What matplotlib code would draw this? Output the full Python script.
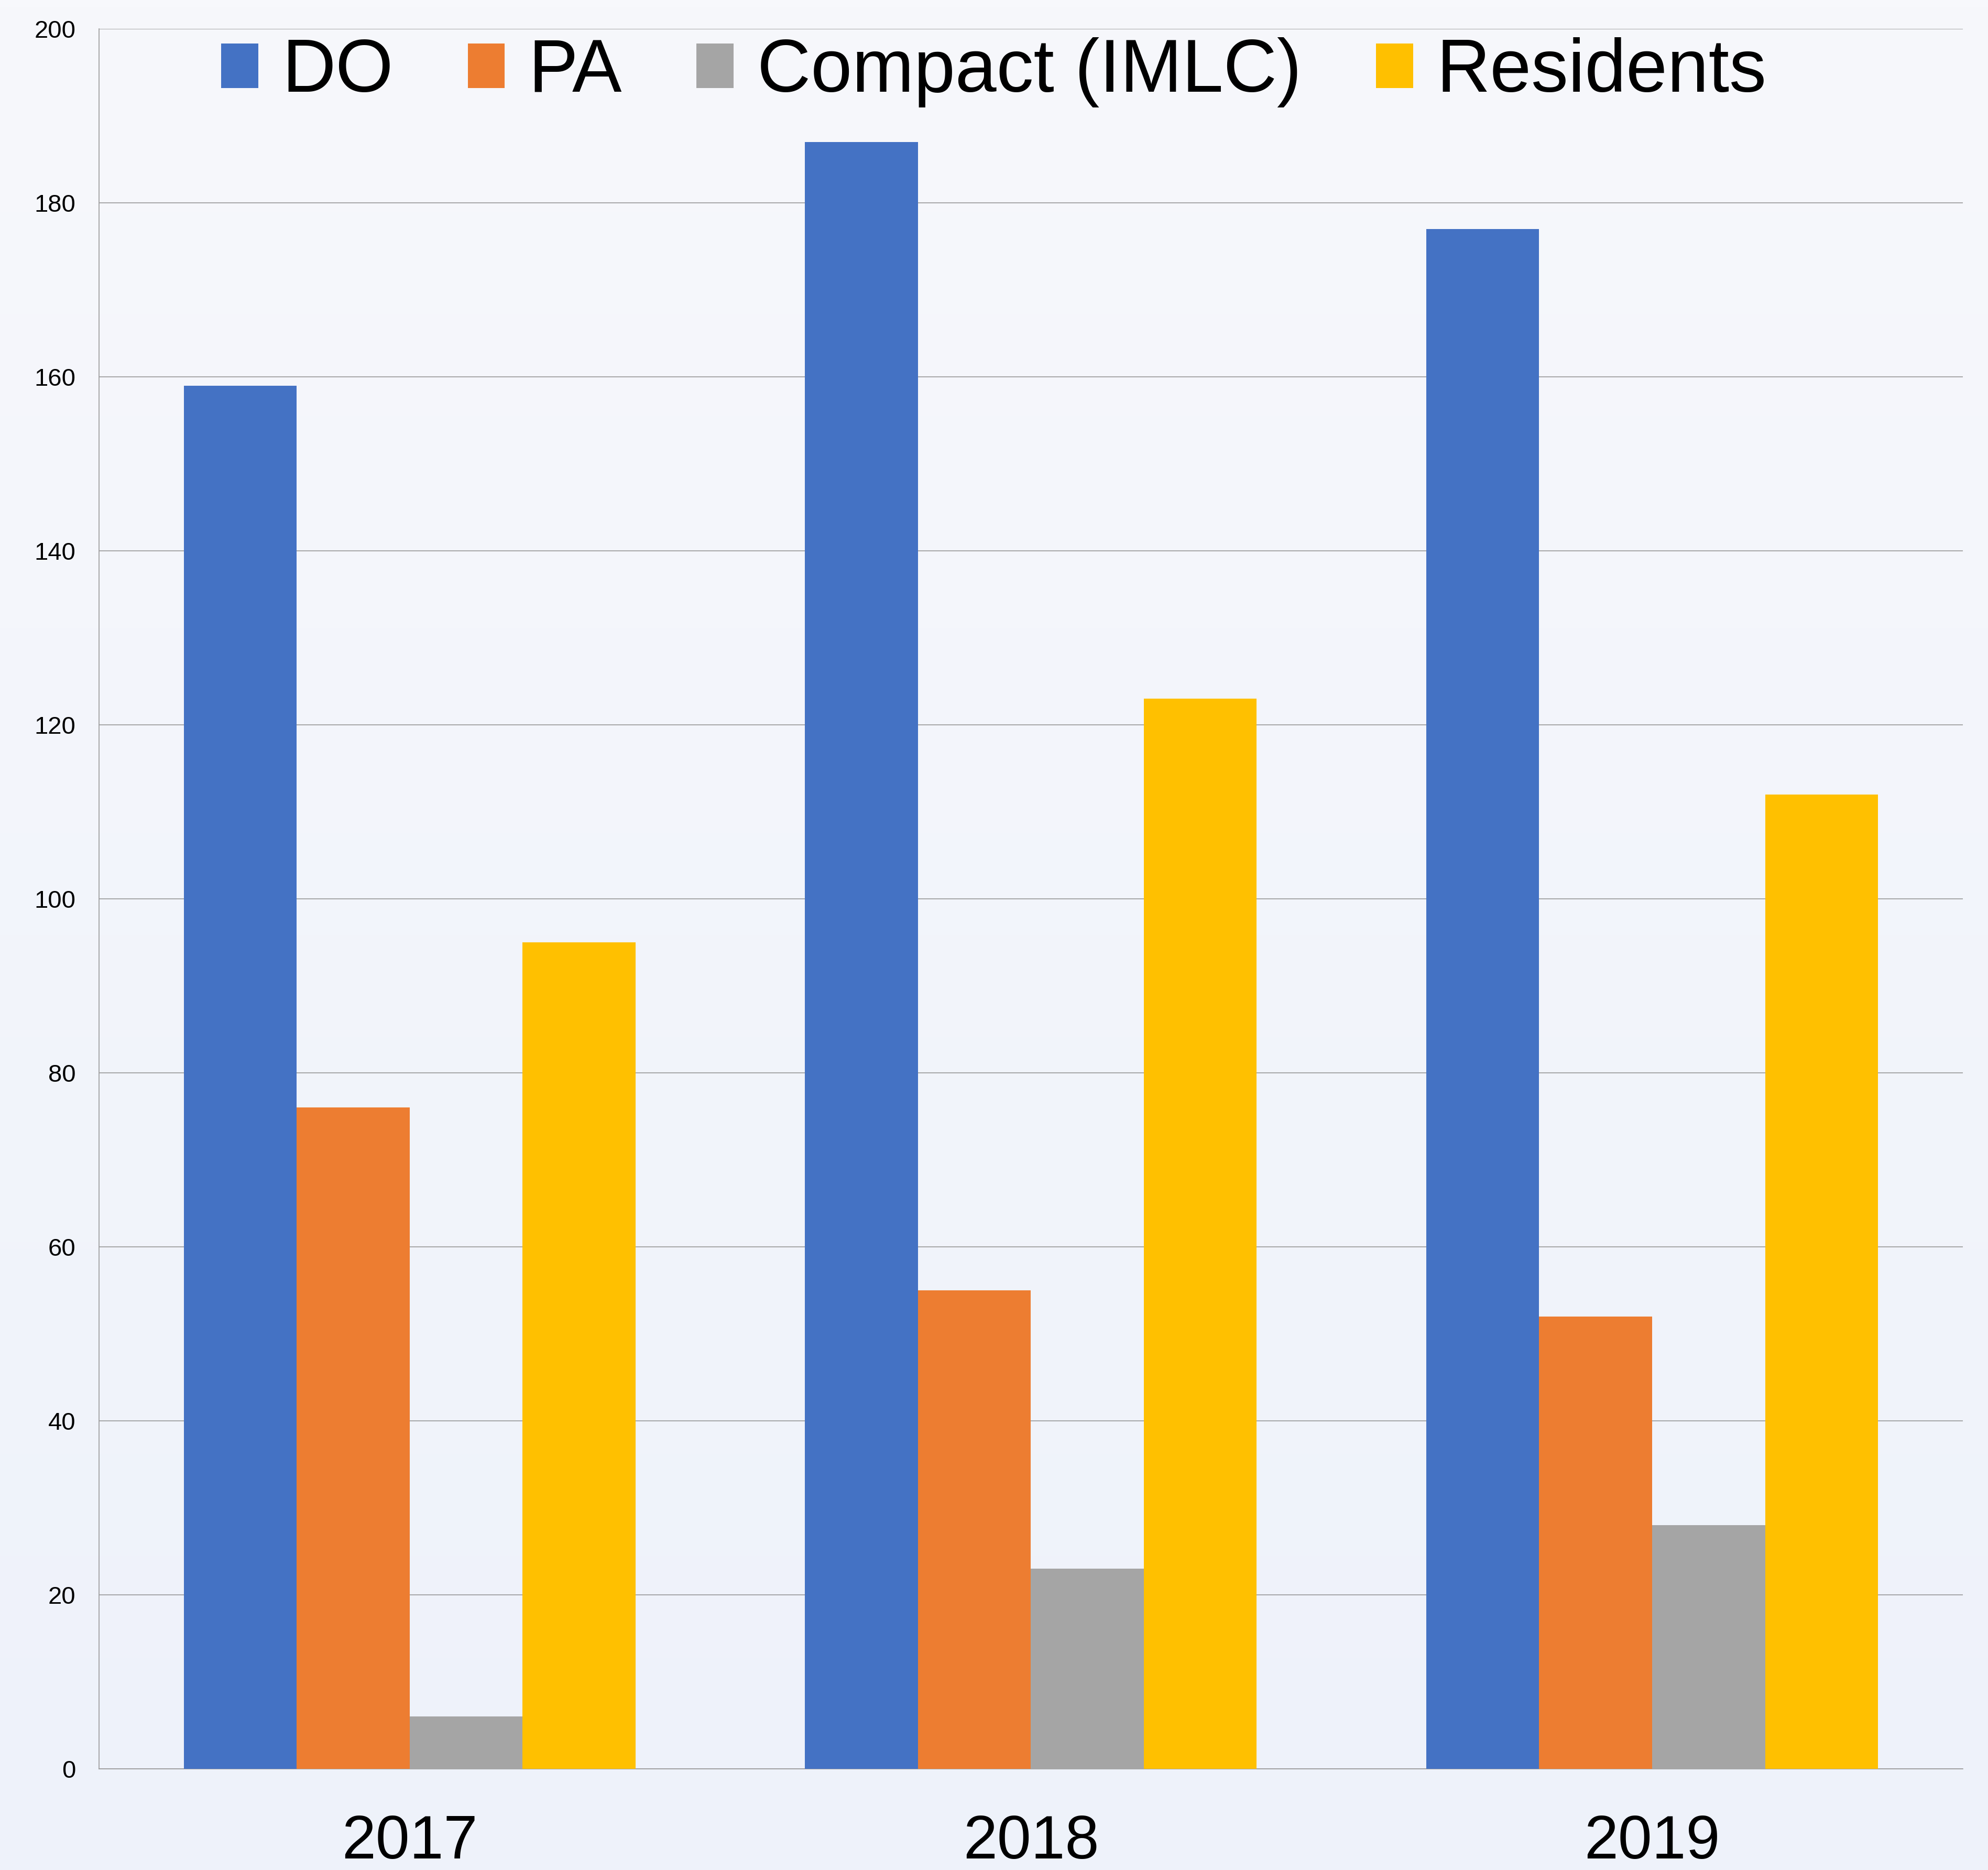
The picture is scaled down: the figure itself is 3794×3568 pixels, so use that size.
import numpy as np
import matplotlib
matplotlib.use("Agg")
import matplotlib.pyplot as plt
from matplotlib.colors import LinearSegmentedColormap

plt.rcParams['font.family'] = ['Liberation Sans', 'DejaVu Sans']

# dados
years = ['2017', '2018', '2019']
series = ['DO', 'PA', 'Compact (IMLC)', 'Residents']
do_vals = [159, 187, 177]
pa_vals = [76, 55, 52]
compact_vals = [6, 23, 28]
res_vals = [95, 123, 112]
cores = ['#4472C4', '#ED7D31', '#A5A5A5', '#FFC000']
yticks = [0, 20, 40, 60, 80, 100, 120, 140, 160, 180, 200]

fig = plt.figure(figsize=(37.94, 35.68), dpi=100)

# fundo em degradê
bg = fig.add_axes([0, 0, 1, 1], zorder=-10)
grad = LinearSegmentedColormap.from_list('bg', ['#EEF2FA', '#F7F8FC'])
bg.imshow(np.linspace(0, 1, 256).reshape(-1, 1), aspect='auto', cmap=grad,
          origin='lower', extent=[0, 1, 0, 1])
bg.axis('off')

ax = fig.add_axes([0.0498, 0.0541, 0.9375, 0.9305])
ax.set_facecolor('none')

x = np.arange(len(years))
w = 0.1818
todos = [do_vals, pa_vals, compact_vals, res_vals]
for i, (vals, nome, c) in enumerate(zip(todos, series, cores)):
    ax.bar(x + (i - 1.5) * w, vals, width=w, color=c, label=nome, zorder=3)

ax.set_xlim(-0.5, 2.5)
ax.set_ylim(0, 200)
ax.set_yticks(yticks)
ax.set_xticks(x)
ax.set_xticklabels(years)
ax.tick_params(axis='y', length=0, labelsize=34, pad=32)
ax.tick_params(axis='x', length=0, labelsize=84, pad=62)
ax.yaxis.grid(True, color='#999999', linewidth=1.2, zorder=0)

for s in ['top', 'right']:
    ax.spines[s].set_visible(False)
ax.spines['left'].set_color('#999999')
ax.spines['left'].set_linewidth(1.2)
ax.spines['bottom'].set_color('#999999')
ax.spines['bottom'].set_linewidth(1.2)

fig.legend(loc='center', bbox_to_anchor=(0.5, 0.9612), ncol=4, frameon=False,
           fontsize=102, handlelength=0.5, handleheight=0.55,
           handletextpad=0.32, columnspacing=1.0)

fig.savefig('out.png', dpi=100)
